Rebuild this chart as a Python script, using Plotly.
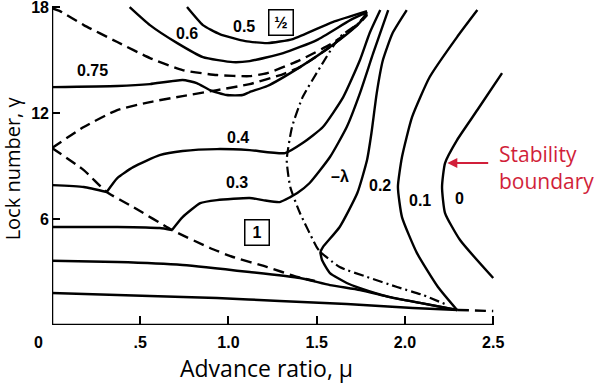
import plotly.graph_objects as go

# ---------------- data (advance ratio mu, lock number gamma) ----------------
x_ticks = [0.5, 1.0, 1.5, 2.0, 2.5]
x_ticktext = [".5", "1.0", "1.5", "2.0", "2.5"]
y_ticks = [6, 12, 18]
y_ticktext = ["6", "12", "18"]

# stability boundary (damping 0)
c0_mu = [2.55, 2.41, 2.295, 2.227, 2.21, 2.227, 2.312, 2.50]
c0_g = [14.26, 12.17, 10.47, 9.17, 7.81, 6.34, 4.81, 2.66]

# 0.1
c01_mu = [2.41, 2.295, 2.14, 2.04, 1.983, 1.96, 1.983, 2.068, 2.187, 2.295]
c01_g = [17.83, 16.30, 14.04, 11.77, 9.51, 7.81, 6.11, 4.07, 2.15, 0.85]

# 0.2 upper branch and lower branch
c02a_mu = [2.01, 1.93, 1.875, 1.84, 1.81, 1.785, 1.73, 1.63, 1.535, 1.52]
c02a_g = [17.83, 16.53, 15.0, 13.13, 10.87, 9.34, 7.47, 5.55, 4.41, 4.13]
c02b_mu = [1.52, 1.53, 1.575, 1.67, 1.745, 1.915, 2.085, 2.295]
c02b_g = [4.13, 3.68, 2.94, 2.38, 2.09, 1.58, 1.25, 0.85]

# 0.3 (flat part, then rising part)
c03a_mu = [0.0, 0.37, 0.61, 0.68]
c03a_g = [5.55, 5.55, 5.49, 5.38]
c03b_mu = [0.68, 0.74, 0.84, 0.935, 1.12, 1.195, 1.29, 1.35, 1.39, 1.46, 1.575, 1.67, 1.745, 1.82, 1.905]
c03b_g = [5.38, 6.11, 6.90, 7.07, 7.19, 7.07, 6.96, 7.24, 7.47, 8.04, 9.51, 11.21, 13.13, 15.39, 17.83]

# 0.4 (flat part, then rising part)
c04a_mu = [0.0, 0.18, 0.31]
c04a_g = [7.92, 7.81, 7.53]
c04b_mu = [0.31, 0.37, 0.46, 0.61, 0.74, 0.935, 1.12, 1.32, 1.42, 1.535, 1.65, 1.745, 1.80, 1.86]
c04b_g = [7.53, 8.32, 8.94, 9.62, 9.85, 9.96, 9.90, 9.73, 10.30, 11.21, 12.90, 15.0, 16.53, 17.83]

# 0.5, 0.6, 0.75
c05_mu = [0.765, 0.855, 0.95, 1.095, 1.22, 1.365, 1.59, 1.785]
c05_g = [18.0, 16.98, 16.47, 16.07, 15.96, 16.19, 17.15, 17.77]
c06_mu = [0.44, 0.555, 0.71, 0.855, 1.025, 1.12, 1.31, 1.50, 1.69, 1.785]
c06_g = [18.0, 16.98, 15.96, 15.17, 14.88, 14.94, 15.39, 16.13, 17.26, 17.71]
c075_mu = [0.0, 0.37, 0.555, 0.74, 0.82, 0.895, 0.99, 1.08, 1.12, 1.22, 1.405, 1.59, 1.73, 1.785]
c075_g = [13.47, 13.53, 13.64, 13.87, 13.70, 13.30, 13.02, 13.02, 13.19, 13.53, 14.60, 15.85, 16.98, 17.60]

# low-gamma solid lines
low1_mu = [0.0, 0.555, 0.935, 1.29, 1.67, 2.045, 2.30]
low1_g = [1.81, 1.64, 1.53, 1.36, 1.19, 0.96, 0.85]
low1_ext_mu = [2.30, 2.50]
low1_ext_g = [0.85, 0.79]
low2_mu = [0.0, 0.37, 0.74, 1.12, 1.405, 1.575, 1.745, 1.915, 2.085, 2.295]
low2_g = [3.64, 3.57, 3.40, 3.0, 2.66, 2.26, 1.98, 1.58, 1.25, 0.85]

# dashed boundaries
dA_mu = [0.0, 0.18, 0.31, 0.46, 0.68, 0.895, 1.025, 1.22, 1.39, 1.49]
dA_g = [10.02, 8.77, 7.53, 6.68, 5.38, 4.36, 3.85, 3.28, 2.72, 2.49]
dB_mu = [0.0, 0.18, 0.37, 0.555, 0.74, 0.935, 1.12, 1.31, 1.405, 1.59, 1.73, 1.785]
dB_g = [10.02, 11.21, 12.17, 12.62, 12.96, 13.30, 13.64, 14.21, 14.60, 15.85, 17.03, 17.60]
dC_mu = [0.0, 0.045, 0.18, 0.37, 0.555, 0.74, 0.935, 1.12, 1.22, 1.405, 1.59, 1.73, 1.785]
dC_g = [17.94, 17.77, 16.98, 16.02, 15.11, 14.43, 14.15, 14.09, 14.26, 15.0, 15.96, 16.98, 17.54]

# -lambda dash-dot curve
lamA_mu = [1.785, 1.745, 1.63, 1.52, 1.42, 1.36, 1.33, 1.35, 1.405, 1.50, 1.52]
lamA_g = [17.71, 17.15, 16.30, 14.60, 12.90, 11.21, 9.34, 7.81, 6.34, 4.41, 4.13]
lamB_mu = [1.52, 1.63, 1.785, 1.955, 2.10, 2.24]
lamB_g = [4.13, 3.28, 2.72, 2.15, 1.70, 1.13]

# curve labels
lab_text = ["0.5", "0.6", "0.75", "0.4", "0.3", "\u2013\u03bb", "0.2", "0.1", "0"]
lab_mu = [1.09, 0.765, 0.23, 1.055, 1.05, 1.63, 1.86, 2.085, 2.31]
lab_g = [16.92, 16.53, 14.43, 10.64, 8.09, 8.38, 7.92, 7.07, 7.19]
box_text = ["\u00bd", "1"]
box_mu = [1.30, 1.16]
box_g = [17.15, 5.21]

# ---------------- figure ----------------
fig = go.Figure()
BLACK = "black"


def add(x, y, dash="solid", width=2.4, smooth=0.5):
    fig.add_trace(go.Scatter(
        x=x, y=y, mode="lines", hoverinfo="skip", showlegend=False,
        line=dict(color=BLACK, width=width, dash=dash, shape="spline", smoothing=smooth),
    ))


DASH = "11px,6px"
DASHDOT = "10px,4px,2px,4px"

for xs, ys in [(c0_mu, c0_g), (c01_mu, c01_g), (c02a_mu, c02a_g), (c02b_mu, c02b_g),
               (c03a_mu, c03a_g), (c03b_mu, c03b_g), (c04a_mu, c04a_g), (c04b_mu, c04b_g),
               (c05_mu, c05_g), (c06_mu, c06_g), (c075_mu, c075_g),
               (low1_mu, low1_g), (low2_mu, low2_g)]:
    add(xs, ys)

for xs, ys in [(dA_mu, dA_g), (dB_mu, dB_g), (dC_mu, dC_g), (low1_ext_mu, low1_ext_g)]:
    add(xs, ys, dash=DASH)

for xs, ys in [(lamA_mu, lamA_g), (lamB_mu, lamB_g)]:
    add(xs, ys, dash=DASHDOT, width=2.2)

LABEL_FONT = dict(family="Liberation Sans, Arial, sans-serif", size=16, color=BLACK, weight="bold")

for t, xm, yg in zip(lab_text, lab_mu, lab_g):
    fig.add_annotation(x=xm, y=yg, text=t, showarrow=False, font=LABEL_FONT)

for t, xm, yg in zip(box_text, box_mu, box_g):
    fig.add_annotation(x=xm, y=yg, text=t, showarrow=False, font=LABEL_FONT,
                       bordercolor=BLACK, borderwidth=1.5, borderpad=3, bgcolor="white",
                       width=17, height=18)

# axis lines (limited to labelled extent)
fig.add_shape(type="line", x0=0, x1=max(x_ticks), y0=0, y1=0, xref="x", yref="y",
              line=dict(color=BLACK, width=2.5))
fig.add_shape(type="line", x0=0, x1=0, y0=0, y1=max(y_ticks), xref="x", yref="y",
              line=dict(color=BLACK, width=2.5))

# origin label
fig.add_annotation(x=0, y=0, text="0", showarrow=False, font=LABEL_FONT,
                   xanchor="right", yanchor="top", xshift=-7, yshift=-7)

# axis titles
fig.add_annotation(x=0.5, xref="paper", y=0, yref="paper", text="Advance ratio, \u03bc",
                   showarrow=False,
                   font=dict(family="Open Sans, Noto Sans, sans-serif", size=23, color=BLACK),
                   xshift=-60, yshift=-43, yanchor="middle")
fig.add_annotation(x=0, xref="paper", y=0.482, yref="paper", text="Lock number, \u03b3",
                   showarrow=False,
                   font=dict(family="Open Sans, Noto Sans, sans-serif", size=20, color=BLACK),
                   textangle=-90, xshift=-40, xanchor="center")

# stability boundary callout
RED = "#d11f3a"
fig.add_annotation(x=2.24, y=9.17, ax=2.48, ay=9.17, axref="x", ayref="y", text="",
                   showarrow=True, arrowhead=2, arrowsize=1, arrowwidth=2, arrowcolor=RED)
fig.add_annotation(x=2.52, y=8.9, text="Stability<br>boundary", showarrow=False, align="left",
                   xanchor="left", yanchor="middle",
                   font=dict(family="Open Sans, Noto Sans, sans-serif", size=21, color=RED))

fig.update_xaxes(range=[0, 3.105], tickvals=x_ticks, ticktext=x_ticktext, ticks="inside",
                 ticklen=9, tickwidth=2, tickcolor=BLACK, showgrid=False, zeroline=False,
                 showline=False, tickfont=LABEL_FONT, ticklabelstandoff=6, automargin=False,
                 ticklabeloverflow="allow")
fig.update_yaxes(range=[0, 18.4], tickvals=y_ticks, ticktext=y_ticktext, ticks="inside",
                 ticklen=8, tickwidth=2, tickcolor=BLACK, showgrid=False, zeroline=False,
                 showline=False, tickfont=LABEL_FONT, ticklabelstandoff=2, automargin=False,
                 ticklabeloverflow="allow")

fig.update_layout(width=600, height=383, margin=dict(l=52, r=0, t=0, b=58),
                  plot_bgcolor="white", paper_bgcolor="white")

fig.write_html("out.html", config={"displayModeBar": False},
               post_script="document.body.style.margin='0';document.body.style.overflow='hidden';")
